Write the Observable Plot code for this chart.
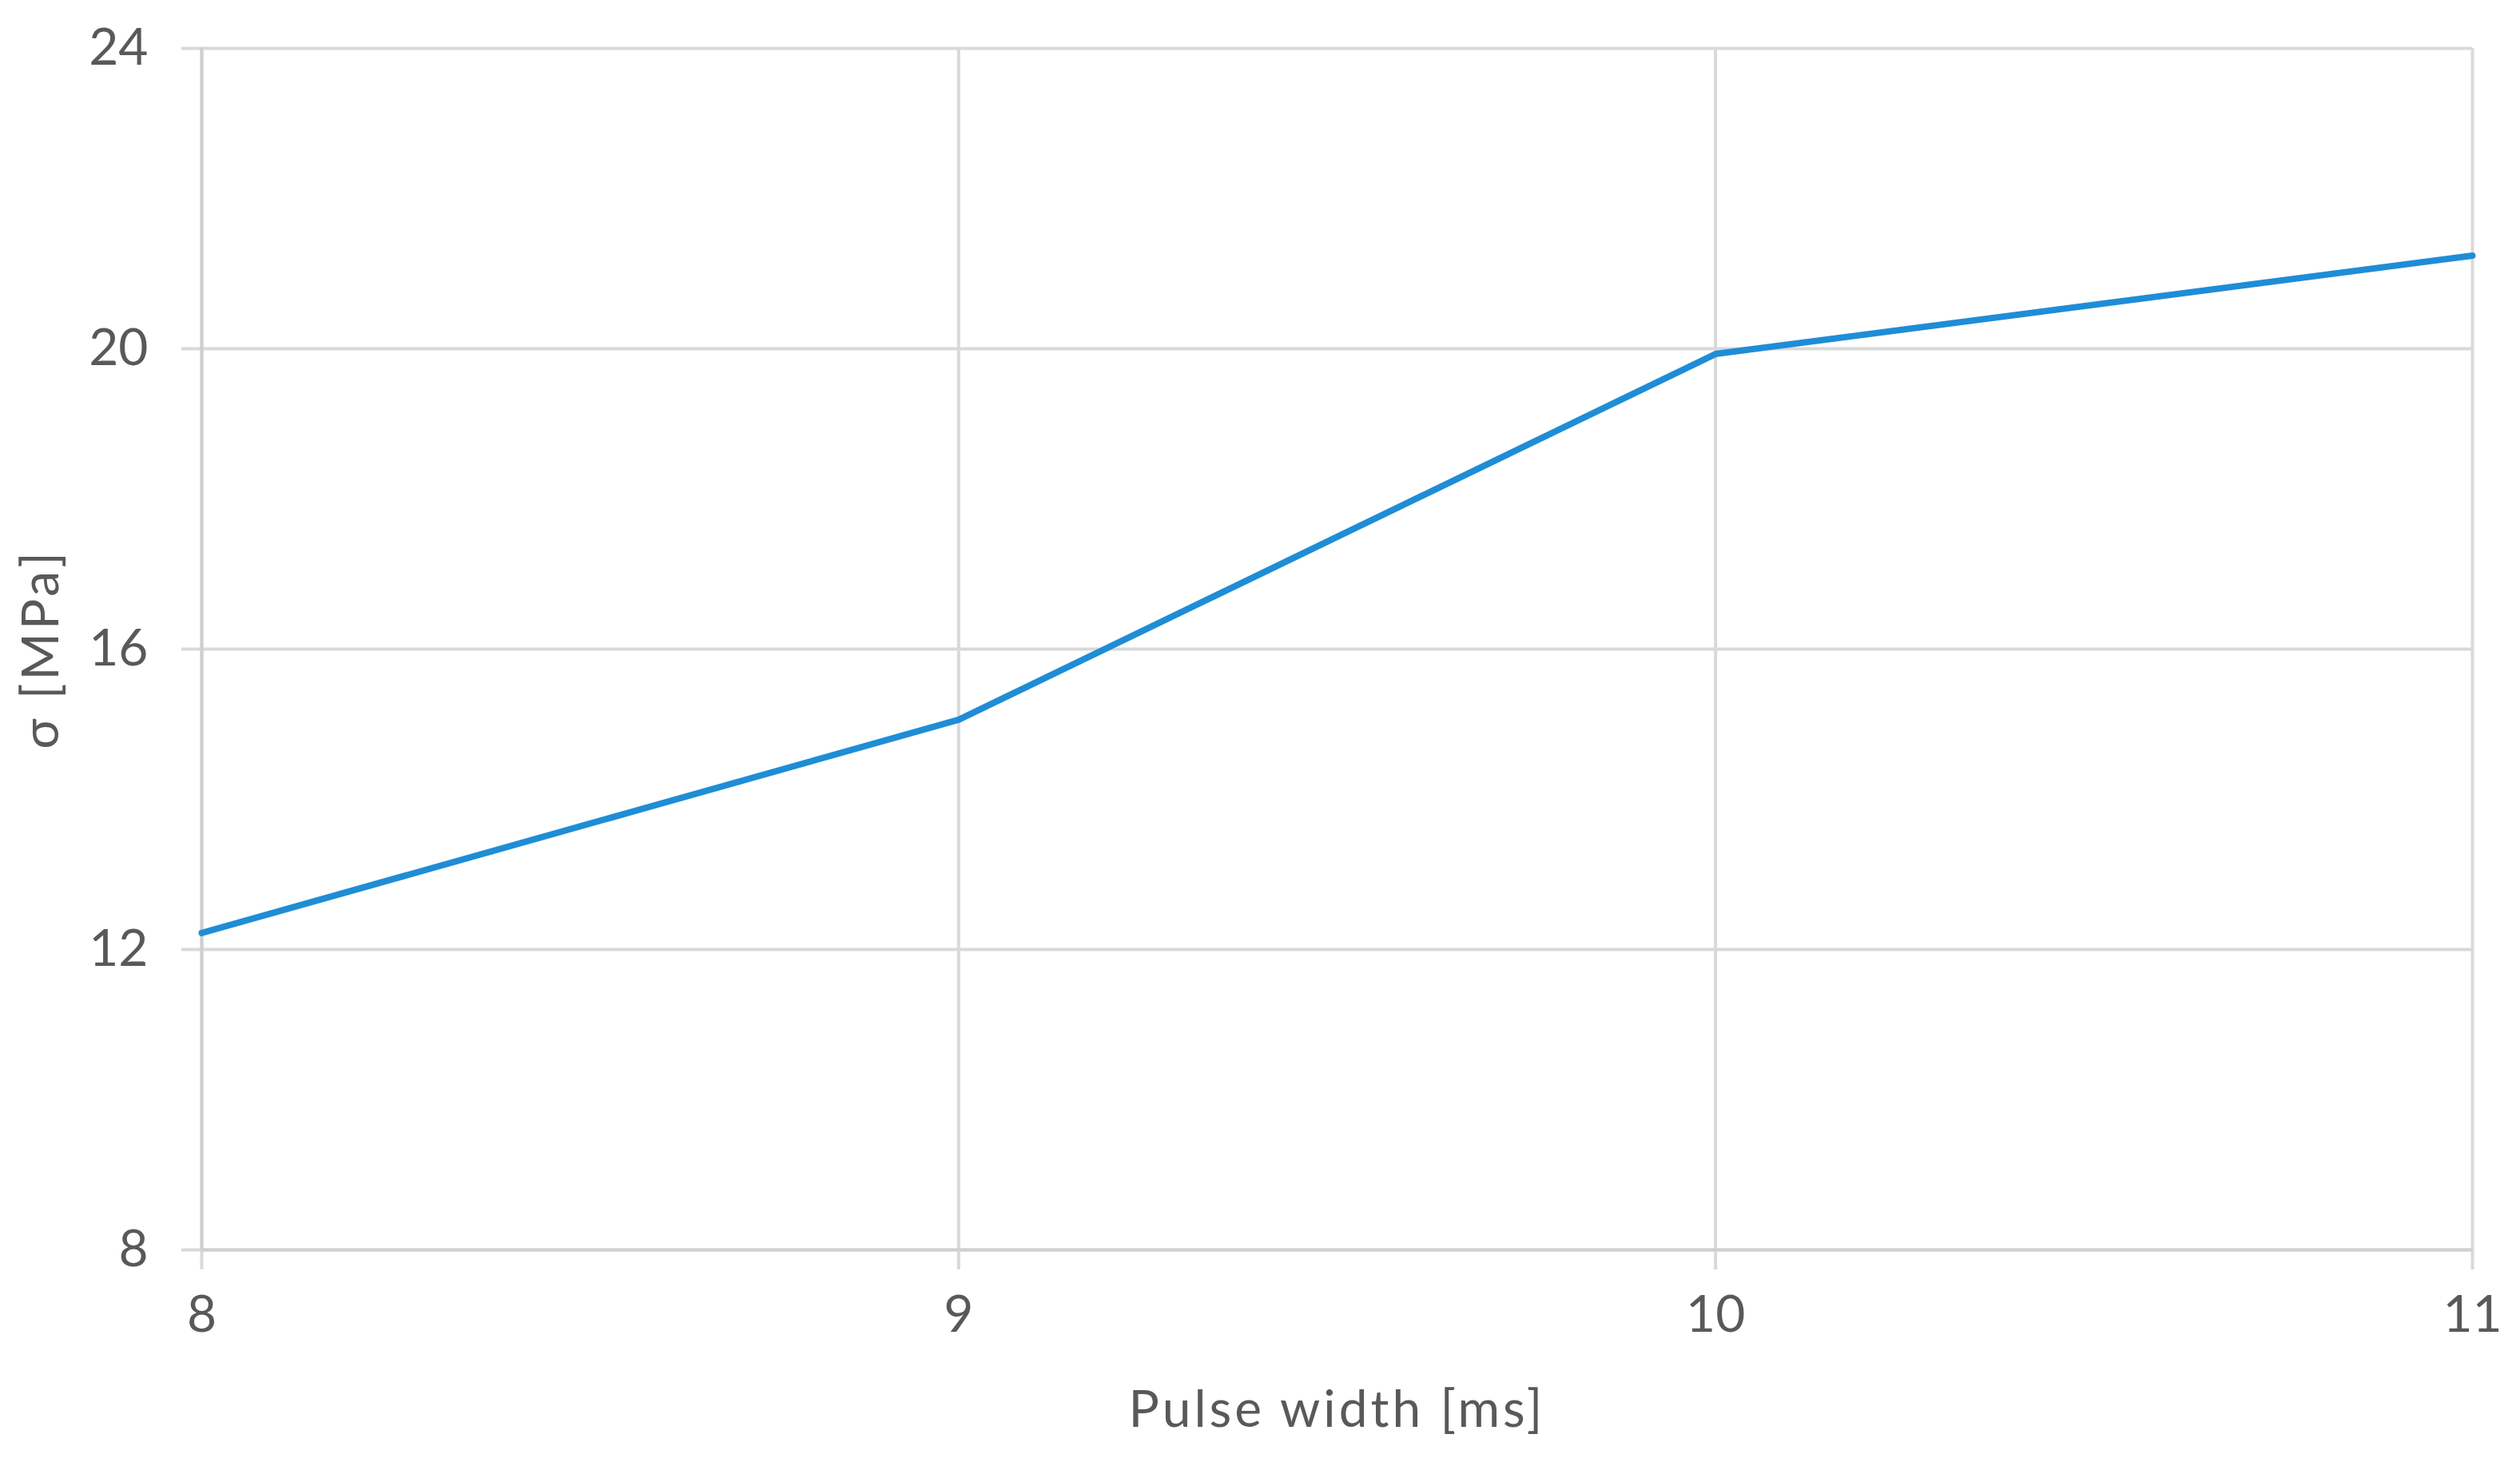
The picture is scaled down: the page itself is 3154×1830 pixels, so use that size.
<!DOCTYPE html>
<html>
<head>
<meta charset="utf-8">
<script src="https://cdn.jsdelivr.net/npm/d3@7"></script>
<script src="https://cdn.jsdelivr.net/npm/@observablehq/plot@0.6"></script>
<style>
  html, body { margin: 0; padding: 0; background: #fff; }
</style>
</head>
<body>
<div id="chart"></div>
<script>
const pulseWidth = [8, 9, 10, 11];
const sigma = [12.22, 15.06, 19.93, 21.24];
const xTicks = [8, 9, 10, 11];
const yTicks = [8, 12, 16, 20, 24];
const xLabel = "Pulse width [ms]";
const yLabel = "σ [MPa]";

const data = pulseWidth.map((x, i) => ({x, y: sigma[i]}));

const gridColor = "#d9d9d9";
const textColor = "#595959";
const fontSize = 64;

const chart = Plot.plot({
  width: 3154,
  height: 1830,
  marginLeft: 252,
  marginRight: 60,
  marginTop: 60,
  marginBottom: 266,
  style: {fontFamily: "Lato, 'Open Sans', sans-serif", fontSize: fontSize + "px", color: textColor, background: "#fff"},
  x: {domain: [8, 11]},
  y: {domain: [8, 24]},
  marks: [
    Plot.gridX(xTicks, {stroke: gridColor, strokeOpacity: 1, strokeWidth: 4}),
    Plot.gridY(yTicks, {stroke: gridColor, strokeOpacity: 1, strokeWidth: 4}),
    Plot.axisX(xTicks, {
      label: null, tickSize: 25, tickPadding: 32, stroke: gridColor, strokeWidth: 4,
      fill: textColor, fontSize: fontSize, tickFormat: d => String(d)
    }),
    Plot.axisY(yTicks, {
      label: null, tickSize: 25, tickPadding: 42, stroke: gridColor, strokeWidth: 4,
      fill: textColor, fontSize: fontSize, tickFormat: d => String(d)
    }),
    Plot.ruleY([8], {stroke: "#cfcfcf", strokeWidth: 4}),
    Plot.ruleX([8], {stroke: "#cfcfcf", strokeWidth: 4}),
    Plot.line(data, {x: "x", y: "y", stroke: "#1f8dd6", strokeWidth: 8, strokeLinejoin: "round"}),
    Plot.text([xLabel], {
      frameAnchor: "bottom", dy: 201, lineAnchor: "middle", textAnchor: "middle",
      fill: textColor, fontSize: fontSize, text: d => d
    }),
    Plot.text([yLabel], {
      frameAnchor: "left", dx: -200, rotate: -90, lineAnchor: "middle", textAnchor: "middle",
      fill: textColor, fontSize: fontSize, text: d => d
    })
  ]
});

// widen the axis titles slightly to match the reference letter spacing
d3.select(chart).selectAll("text")
  .filter(function() { const t = this.textContent; return t === xLabel || t === yLabel; })
  .attr("letter-spacing", "4px");

document.getElementById("chart").appendChild(chart);
</script>
</body>
</html>
